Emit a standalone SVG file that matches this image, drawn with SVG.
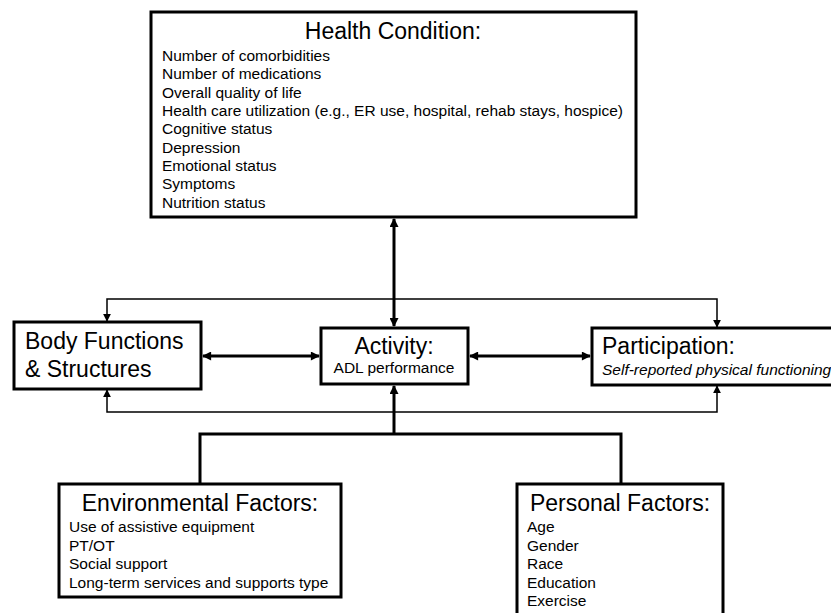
<svg xmlns="http://www.w3.org/2000/svg" width="831" height="613" viewBox="0 0 831 613">
<defs>
<style>
text{font-family:"Liberation Sans",Arial,sans-serif;fill:#000}
.box{fill:#fff;stroke:#000;stroke-width:3}
.t{font-size:23px}
.s{font-size:15.5px}
.i{font-style:italic}
.thick{fill:none;stroke:#000;stroke-width:3}
.thin{fill:none;stroke:#000;stroke-width:1.5}
</style>
<marker id="ah" viewBox="0 0 10 10" refX="9" refY="5" markerWidth="11" markerHeight="9" markerUnits="userSpaceOnUse" orient="auto-start-reverse"><path d="M0,0 L10,5 L0,10 z" fill="#000"/></marker>
<marker id="as" viewBox="0 0 10 10" refX="9" refY="5" markerWidth="8" markerHeight="8" markerUnits="userSpaceOnUse" orient="auto-start-reverse"><path d="M0,0 L10,5 L0,10 z" fill="#000"/></marker>
</defs>
<rect width="831" height="613" fill="#fff"/>
<g id="connectors">
<line class="thick" x1="394" y1="219" x2="394" y2="326" marker-start="url(#ah)" marker-end="url(#ah)"/>
<polyline class="thin" points="107,321 107,299 717,299 717,327" marker-start="url(#as)" marker-end="url(#as)"/>
<polyline class="thin" points="107,390 107,412 717,412 717,386" marker-start="url(#as)" marker-end="url(#as)"/>
<line class="thick" x1="203" y1="356" x2="319" y2="356" marker-start="url(#ah)" marker-end="url(#ah)"/>
<line class="thick" x1="470" y1="356" x2="590" y2="356" marker-start="url(#ah)" marker-end="url(#ah)"/>
<line class="thick" x1="394" y1="434" x2="394" y2="386" marker-end="url(#ah)"/>
<polyline class="thick" points="200,484 200,434 621,434 621,484"/>
</g>
<g id="health">
<rect class="box" x="151" y="12" width="485" height="205"/>
<text class="t" x="393" y="39" text-anchor="middle">Health Condition:</text>
<text class="s" x="162" y="61">Number of comorbidities</text>
<text class="s" x="162" y="79.3">Number of medications</text>
<text class="s" x="162" y="97.6">Overall quality of life</text>
<text class="s" x="162" y="116">Health care utilization (e.g., ER use, hospital, rehab stays, hospice)</text>
<text class="s" x="162" y="134.3">Cognitive status</text>
<text class="s" x="162" y="152.7">Depression</text>
<text class="s" x="162" y="171">Emotional status</text>
<text class="s" x="162" y="189.3">Symptoms</text>
<text class="s" x="162" y="207.7">Nutrition status</text>
</g>
<g id="body">
<rect class="box" x="14" y="322" width="187" height="67"/>
<text class="t" x="25" y="349">Body Functions</text>
<text class="t" x="25" y="377">&amp; Structures</text>
</g>
<g id="activity">
<rect class="box" x="321" y="328" width="147" height="56"/>
<text class="t" x="394" y="354" text-anchor="middle">Activity:</text>
<text class="s" x="394" y="373" text-anchor="middle">ADL performance</text>
</g>
<g id="participation">
<rect class="box" x="592" y="328" width="250" height="57"/>
<text class="t" x="602" y="354">Participation:</text>
<text class="s i" x="602" y="375">Self-reported physical functioning</text>
</g>
<g id="environmental">
<rect class="box" x="59" y="484" width="282" height="113"/>
<text class="t" x="200" y="511" text-anchor="middle">Environmental Factors:</text>
<text class="s" x="69" y="532">Use of assistive equipment</text>
<text class="s" x="69" y="550.5">PT/OT</text>
<text class="s" x="69" y="569">Social support</text>
<text class="s" x="69" y="587.5">Long-term services and supports type</text>
</g>
<g id="personal">
<rect class="box" x="517" y="484" width="206" height="140"/>
<text class="t" x="620" y="511" text-anchor="middle">Personal Factors:</text>
<text class="s" x="527" y="532">Age</text>
<text class="s" x="527" y="550.5">Gender</text>
<text class="s" x="527" y="569">Race</text>
<text class="s" x="527" y="587.5">Education</text>
<text class="s" x="527" y="606">Exercise</text>
</g>
</svg>
